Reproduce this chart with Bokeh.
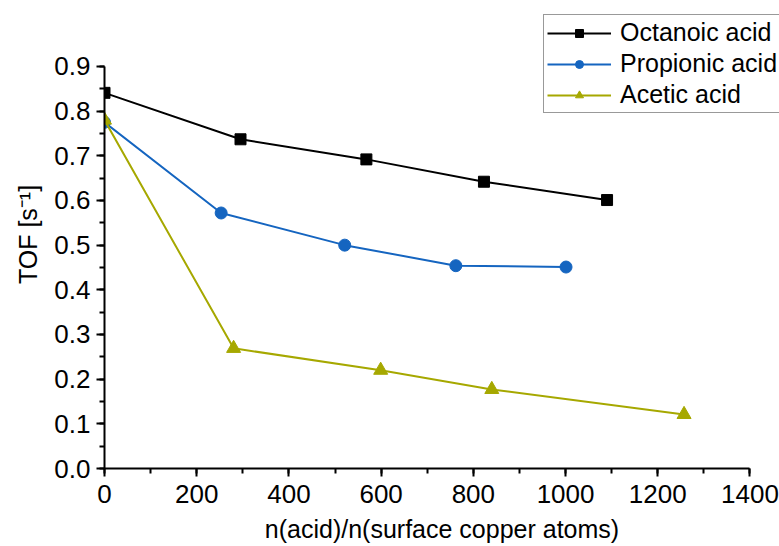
from bokeh.plotting import figure
from bokeh.models import Range1d, FixedTicker, Legend
from bokeh.embed import file_html
from bokeh.resources import INLINE

# Ratio n(acid)/n(surface Cu) and turnover frequency for each acid
octanoic_x = [0, 295, 568, 823, 1090]
octanoic_y = [0.841, 0.737, 0.692, 0.642, 0.601]

propionic_x = [0, 253, 521, 762, 1001]
propionic_y = [0.775, 0.572, 0.500, 0.454, 0.451]

acetic_x = [0, 280, 599, 840, 1257]
acetic_y = [0.780, 0.269, 0.220, 0.177, 0.121]

x_ticks = [0, 200, 400, 600, 800, 1000, 1200, 1400]
y_ticks = [0.0, 0.1, 0.2, 0.3, 0.4, 0.5, 0.6, 0.7, 0.8, 0.9]

FONT = "Liberation Sans"
BLACK = "#000000"
BLUE = "#1565C0"
OLIVE = "#A6A800"

p = figure(
    width=779, height=546,
    output_backend="svg", toolbar_location=None,
    x_range=Range1d(0, 1464), y_range=Range1d(0, 1.0477),
    min_border_left=104, min_border_right=0,
    min_border_top=0, min_border_bottom=78,
)
p.outline_line_color = None
p.xgrid.visible = False
p.ygrid.visible = False
p.background_fill_color = "white"
p.border_fill_color = "white"

series = [
    ("Octanoic acid", octanoic_x, octanoic_y, BLACK, "square", 11),
    ("Propionic acid", propionic_x, propionic_y, BLUE, "circle", 12),
    ("Acetic acid", acetic_x, acetic_y, OLIVE, "triangle", 14),
]
items = []
for name, xs, ys, col, marker, size in series:
    ln = p.line(xs, ys, line_color=col, line_width=2)
    sc = p.scatter(xs, ys, marker=marker, size=size, fill_color=col, line_color=col)
    items.append((name, [ln, sc]))

legend = Legend(items=items, location=(439, 355))
legend.label_text_font = FONT
legend.label_text_font_size = "25px"
legend.label_text_color = "black"
legend.glyph_width = 64
legend.glyph_height = 20
legend.label_standoff = 9
legend.spacing = 2
legend.padding = 3
legend.margin = 0
legend.border_line_color = "#333333"
legend.border_line_width = 1.5
legend.background_fill_alpha = 1.0
p.add_layout(legend, "center")

for ax in (p.xaxis[0], p.yaxis[0]):
    ax.axis_line_width = 2
    ax.axis_line_color = "black"
    ax.major_tick_line_width = 2
    ax.minor_tick_line_width = 2
    ax.major_tick_line_color = "black"
    ax.minor_tick_line_color = "black"
    ax.major_tick_out = 8
    ax.major_tick_in = 0
    ax.minor_tick_out = 5
    ax.minor_tick_in = 0
    ax.major_label_text_font = FONT
    ax.major_label_text_font_size = "26px"
    ax.major_label_text_color = "black"
    ax.axis_label_text_font = FONT
    ax.axis_label_text_font_size = "25px"
    ax.axis_label_text_font_style = "normal"
    ax.axis_label_text_color = "black"

p.xaxis.bounds = (0, 1400)
p.xaxis.ticker = FixedTicker(ticks=x_ticks, minor_ticks=list(range(0, 1401, 100)))
p.xaxis.axis_label = "n(acid)/n(surface copper atoms)"
p.xaxis.major_label_standoff = 8
p.xaxis.axis_label_standoff = 9

p.yaxis.bounds = (0, 0.9)
p.yaxis.ticker = FixedTicker(ticks=y_ticks, minor_ticks=[i * 0.05 for i in range(19)])
p.yaxis.major_label_overrides = {t: f"{t:.1f}" for t in y_ticks}
p.yaxis.axis_label = "TOF [s\u207b\u00b9]"
p.yaxis.major_label_standoff = 6
p.yaxis.axis_label_standoff = 9

open("out.html", "w").write(file_html(p, INLINE))
